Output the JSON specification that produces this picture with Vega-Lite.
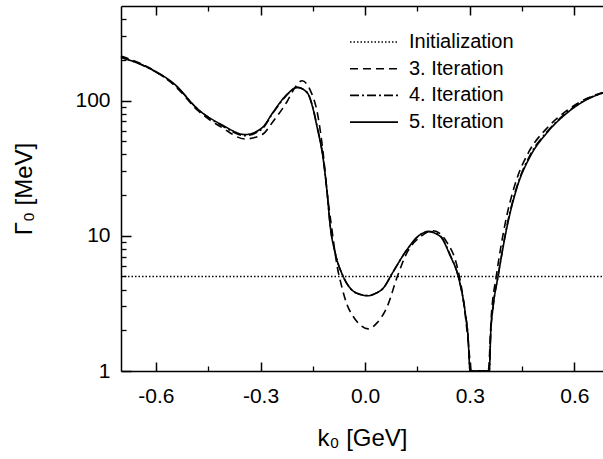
{
  "$schema": "https://vega.github.io/schema/vega-lite/v6.json",
  "autosize": {"type": "none"},
  "padding": {"left": 121, "top": 6, "right": 0, "bottom": 88},
  "width": 482,
  "height": 365,
  "config": {"view": {"stroke": null}},
  "data": {"values": [
    {"k": -0.7, "g": 5, "s": "Initialization"},
    {"k": 0.682, "g": 5, "s": "Initialization"},

    {"k": -0.700, "g": 213, "s": "3. Iteration"},
    {"k": -0.622, "g": 176, "s": "3. Iteration"},
    {"k": -0.545, "g": 128, "s": "3. Iteration"},
    {"k": -0.479, "g": 84, "s": "3. Iteration"},
    {"k": -0.410, "g": 63, "s": "3. Iteration"},
    {"k": -0.344, "g": 52, "s": "3. Iteration"},
    {"k": -0.295, "g": 56, "s": "3. Iteration"},
    {"k": -0.264, "g": 70, "s": "3. Iteration"},
    {"k": -0.224, "g": 98, "s": "3. Iteration"},
    {"k": -0.200, "g": 126, "s": "3. Iteration"},
    {"k": -0.181, "g": 140, "s": "3. Iteration"},
    {"k": -0.158, "g": 120, "s": "3. Iteration"},
    {"k": -0.135, "g": 76, "s": "3. Iteration"},
    {"k": -0.120, "g": 40, "s": "3. Iteration"},
    {"k": -0.109, "g": 21, "s": "3. Iteration"},
    {"k": -0.095, "g": 11, "s": "3. Iteration"},
    {"k": -0.080, "g": 5.9, "s": "3. Iteration"},
    {"k": -0.068, "g": 4.3, "s": "3. Iteration"},
    {"k": -0.052, "g": 3.1, "s": "3. Iteration"},
    {"k": -0.035, "g": 2.55, "s": "3. Iteration"},
    {"k": -0.014, "g": 2.19, "s": "3. Iteration"},
    {"k": 0.009, "g": 2.05, "s": "3. Iteration"},
    {"k": 0.034, "g": 2.27, "s": "3. Iteration"},
    {"k": 0.063, "g": 2.98, "s": "3. Iteration"},
    {"k": 0.092, "g": 4.97, "s": "3. Iteration"},
    {"k": 0.120, "g": 7.5, "s": "3. Iteration"},
    {"k": 0.158, "g": 9.8, "s": "3. Iteration"},
    {"k": 0.195, "g": 10.9, "s": "3. Iteration"},
    {"k": 0.235, "g": 8.9, "s": "3. Iteration"},
    {"k": 0.264, "g": 5.9, "s": "3. Iteration"},
    {"k": 0.280, "g": 3.6, "s": "3. Iteration"},
    {"k": 0.295, "g": 1.7, "s": "3. Iteration"},
    {"k": 0.305, "g": 1.0, "s": "3. Iteration"},
    {"k": 0.353, "g": 1.0, "s": "3. Iteration"},
    {"k": 0.362, "g": 2.6, "s": "3. Iteration"},
    {"k": 0.377, "g": 5.2, "s": "3. Iteration"},
    {"k": 0.402, "g": 12.5, "s": "3. Iteration"},
    {"k": 0.432, "g": 25, "s": "3. Iteration"},
    {"k": 0.470, "g": 42, "s": "3. Iteration"},
    {"k": 0.520, "g": 62, "s": "3. Iteration"},
    {"k": 0.580, "g": 85, "s": "3. Iteration"},
    {"k": 0.637, "g": 104, "s": "3. Iteration"},
    {"k": 0.682, "g": 115, "s": "3. Iteration"},

    {"k": -0.700, "g": 210, "s": "4. Iteration"},
    {"k": -0.622, "g": 174, "s": "4. Iteration"},
    {"k": -0.545, "g": 130, "s": "4. Iteration"},
    {"k": -0.479, "g": 86, "s": "4. Iteration"},
    {"k": -0.410, "g": 65, "s": "4. Iteration"},
    {"k": -0.344, "g": 55, "s": "4. Iteration"},
    {"k": -0.295, "g": 62, "s": "4. Iteration"},
    {"k": -0.264, "g": 81, "s": "4. Iteration"},
    {"k": -0.224, "g": 110, "s": "4. Iteration"},
    {"k": -0.195, "g": 125, "s": "4. Iteration"},
    {"k": -0.166, "g": 115, "s": "4. Iteration"},
    {"k": -0.152, "g": 93, "s": "4. Iteration"},
    {"k": -0.138, "g": 65, "s": "4. Iteration"},
    {"k": -0.120, "g": 37, "s": "4. Iteration"},
    {"k": -0.109, "g": 21, "s": "4. Iteration"},
    {"k": -0.100, "g": 11.8, "s": "4. Iteration"},
    {"k": -0.086, "g": 7.5, "s": "4. Iteration"},
    {"k": -0.063, "g": 5.0, "s": "4. Iteration"},
    {"k": -0.043, "g": 4.1, "s": "4. Iteration"},
    {"k": -0.023, "g": 3.75, "s": "4. Iteration"},
    {"k": 0.009, "g": 3.62, "s": "4. Iteration"},
    {"k": 0.030, "g": 3.75, "s": "4. Iteration"},
    {"k": 0.052, "g": 4.1, "s": "4. Iteration"},
    {"k": 0.080, "g": 5.4, "s": "4. Iteration"},
    {"k": 0.120, "g": 7.9, "s": "4. Iteration"},
    {"k": 0.158, "g": 10.2, "s": "4. Iteration"},
    {"k": 0.181, "g": 10.8, "s": "4. Iteration"},
    {"k": 0.215, "g": 10.0, "s": "4. Iteration"},
    {"k": 0.244, "g": 7.2, "s": "4. Iteration"},
    {"k": 0.267, "g": 5.0, "s": "4. Iteration"},
    {"k": 0.287, "g": 2.7, "s": "4. Iteration"},
    {"k": 0.295, "g": 1.8, "s": "4. Iteration"},
    {"k": 0.301, "g": 1.0, "s": "4. Iteration"},
    {"k": 0.356, "g": 1.0, "s": "4. Iteration"},
    {"k": 0.360, "g": 1.9, "s": "4. Iteration"},
    {"k": 0.367, "g": 3.0, "s": "4. Iteration"},
    {"k": 0.381, "g": 5.0, "s": "4. Iteration"},
    {"k": 0.407, "g": 12, "s": "4. Iteration"},
    {"k": 0.436, "g": 23.5, "s": "4. Iteration"},
    {"k": 0.473, "g": 39.5, "s": "4. Iteration"},
    {"k": 0.522, "g": 59, "s": "4. Iteration"},
    {"k": 0.579, "g": 82, "s": "4. Iteration"},
    {"k": 0.637, "g": 103, "s": "4. Iteration"},
    {"k": 0.682, "g": 114, "s": "4. Iteration"},

    {"k": -0.700, "g": 208, "s": "5. Iteration"},
    {"k": -0.622, "g": 175, "s": "5. Iteration"},
    {"k": -0.545, "g": 131, "s": "5. Iteration"},
    {"k": -0.479, "g": 86, "s": "5. Iteration"},
    {"k": -0.410, "g": 66, "s": "5. Iteration"},
    {"k": -0.344, "g": 56, "s": "5. Iteration"},
    {"k": -0.295, "g": 63, "s": "5. Iteration"},
    {"k": -0.264, "g": 82, "s": "5. Iteration"},
    {"k": -0.224, "g": 111, "s": "5. Iteration"},
    {"k": -0.195, "g": 125, "s": "5. Iteration"},
    {"k": -0.166, "g": 114, "s": "5. Iteration"},
    {"k": -0.152, "g": 92, "s": "5. Iteration"},
    {"k": -0.138, "g": 64, "s": "5. Iteration"},
    {"k": -0.120, "g": 36.6, "s": "5. Iteration"},
    {"k": -0.109, "g": 20.8, "s": "5. Iteration"},
    {"k": -0.100, "g": 11.7, "s": "5. Iteration"},
    {"k": -0.086, "g": 7.5, "s": "5. Iteration"},
    {"k": -0.063, "g": 5.0, "s": "5. Iteration"},
    {"k": -0.043, "g": 4.1, "s": "5. Iteration"},
    {"k": -0.023, "g": 3.75, "s": "5. Iteration"},
    {"k": 0.009, "g": 3.6, "s": "5. Iteration"},
    {"k": 0.030, "g": 3.75, "s": "5. Iteration"},
    {"k": 0.052, "g": 4.1, "s": "5. Iteration"},
    {"k": 0.080, "g": 5.4, "s": "5. Iteration"},
    {"k": 0.120, "g": 7.9, "s": "5. Iteration"},
    {"k": 0.158, "g": 10.2, "s": "5. Iteration"},
    {"k": 0.181, "g": 10.7, "s": "5. Iteration"},
    {"k": 0.215, "g": 9.9, "s": "5. Iteration"},
    {"k": 0.244, "g": 7.1, "s": "5. Iteration"},
    {"k": 0.267, "g": 5.0, "s": "5. Iteration"},
    {"k": 0.287, "g": 2.7, "s": "5. Iteration"},
    {"k": 0.295, "g": 1.8, "s": "5. Iteration"},
    {"k": 0.301, "g": 1.0, "s": "5. Iteration"},
    {"k": 0.356, "g": 1.0, "s": "5. Iteration"},
    {"k": 0.360, "g": 1.9, "s": "5. Iteration"},
    {"k": 0.367, "g": 3.0, "s": "5. Iteration"},
    {"k": 0.381, "g": 5.0, "s": "5. Iteration"},
    {"k": 0.407, "g": 11.7, "s": "5. Iteration"},
    {"k": 0.436, "g": 23, "s": "5. Iteration"},
    {"k": 0.473, "g": 38.5, "s": "5. Iteration"},
    {"k": 0.522, "g": 58, "s": "5. Iteration"},
    {"k": 0.579, "g": 81, "s": "5. Iteration"},
    {"k": 0.637, "g": 102, "s": "5. Iteration"},
    {"k": 0.682, "g": 114, "s": "5. Iteration"}
  ]},
  "layer": [
    {
      "mark": {"type": "line", "color": "black", "strokeWidth": 1.6, "interpolate": "monotone"},
      "encoding": {
        "x": {
          "field": "k", "type": "quantitative",
          "scale": {"domain": [-0.7, 0.682], "nice": false, "zero": false},
          "axis": {
            "orient": "bottom", "grid": false,
            "values": [-0.6, -0.3, 0, 0.3, 0.6],
            "domainColor": "black", "domainWidth": 1.5,
            "tickSize": -9, "tickColor": "black", "tickWidth": 1.5,
            "labelPadding": 23, "labelFont": "Liberation Sans", "labelFontSize": 21, "labelColor": "black",
            "labelExpr": "replace(format(datum.value, '.1f'), '\u2212', '-')",
            "title": "k\u2080 [GeV]", "titleFont": "Liberation Sans", "titleFontSize": 24, "titleFontWeight": "normal", "titleColor": "black",
            "titlePadding": 20
          }
        },
        "y": {
          "field": "g", "type": "quantitative",
          "scale": {"type": "log", "domain": [1, 500], "nice": false},
          "axis": {
            "orient": "left", "grid": false,
            "values": [1, 10, 100],
            "domainColor": "black", "domainWidth": 1.5,
            "tickSize": -10, "tickColor": "black", "tickWidth": 1.5,
            "labelPadding": 21, "labelFont": "Liberation Sans", "labelFontSize": 21, "labelColor": "black",
            "labelExpr": "format(datum.value, 'd')",
            "title": "\u0393\u2080 [MeV]", "titleFont": "Liberation Sans", "titleFontSize": 24, "titleFontWeight": "normal", "titleColor": "black",
            "titlePadding": 38
          }
        },
        "strokeDash": {
          "field": "s", "type": "nominal",
          "scale": {
            "domain": ["Initialization", "3. Iteration", "4. Iteration", "5. Iteration"],
            "range": [[1.5, 2], [8, 5], [9, 3, 2, 3], [1, 0]]
          },
          "legend": {
            "title": null, "orient": "none", "legendX": 228, "legendY": 26,
            "padding": 0, "symbolType": "stroke", "symbolSize": 2304,
            "symbolStrokeColor": "black", "symbolStrokeWidth": 1.6,
            "clipHeight": 20, "rowPadding": 6.7, "labelOffset": 10,
            "labelFont": "Liberation Sans", "labelFontSize": 20, "labelColor": "black"
          }
        }
      }
    },
    {
      "mark": {"type": "line", "opacity": 0},
      "encoding": {
        "x": {
          "field": "k", "type": "quantitative",
          "scale": {"domain": [-0.7, 0.682], "nice": false, "zero": false},
          "axis": {"orient": "bottom", "grid": false, "values": [-0.45, -0.15, 0.15, 0.45], "tickSize": -5, "tickColor": "black", "tickWidth": 1.3, "labels": false, "domain": false, "title": null}
        },
        "y": {
          "field": "g", "type": "quantitative",
          "scale": {"type": "log", "domain": [1, 500], "nice": false},
          "axis": {"orient": "left", "grid": false, "values": [2, 3, 4, 5, 6, 7, 8, 9, 20, 30, 40, 50, 60, 70, 80, 90, 200, 300, 400], "tickSize": -5, "tickColor": "black", "tickWidth": 1.3, "labels": false, "domain": false, "title": null}
        },
        "detail": {"field": "s"}
      }
    },
    {
      "mark": {"type": "line", "opacity": 0},
      "encoding": {
        "x": {
          "field": "k", "type": "quantitative",
          "scale": {"domain": [-0.7, 0.682], "nice": false, "zero": false},
          "axis": {"orient": "top", "grid": false, "values": [-0.6, -0.3, 0, 0.3, 0.6], "domainColor": "black", "domainWidth": 1.5, "tickSize": -9, "tickColor": "black", "tickWidth": 1.5, "labels": false, "title": null}
        },
        "y": {"field": "g", "type": "quantitative", "scale": {"type": "log", "domain": [1, 500], "nice": false}, "axis": null},
        "detail": {"field": "s"}
      }
    },
    {
      "mark": {"type": "line", "opacity": 0},
      "encoding": {
        "x": {
          "field": "k", "type": "quantitative",
          "scale": {"domain": [-0.7, 0.682], "nice": false, "zero": false},
          "axis": {"orient": "top", "grid": false, "values": [-0.45, -0.15, 0.15, 0.45], "tickSize": -5, "tickColor": "black", "tickWidth": 1.3, "labels": false, "domain": false, "title": null}
        },
        "y": {"field": "g", "type": "quantitative", "scale": {"type": "log", "domain": [1, 500], "nice": false}, "axis": null},
        "detail": {"field": "s"}
      }
    }
  ],
  "resolve": {"axis": {"x": "independent", "y": "independent"}}
}
